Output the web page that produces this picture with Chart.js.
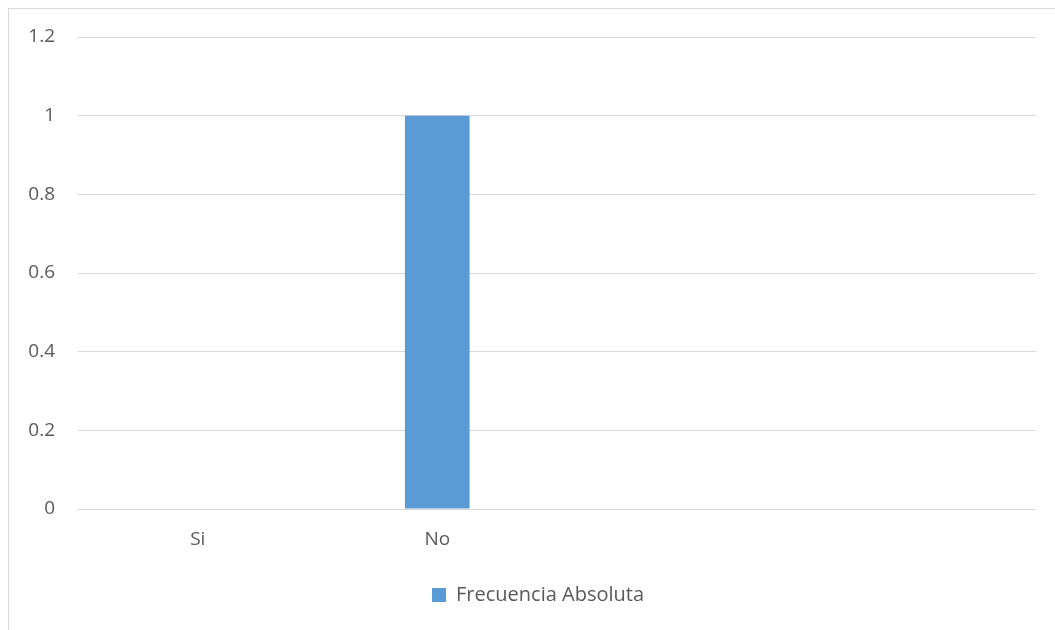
<!DOCTYPE html>
<html>
<head>
<meta charset="utf-8">
<script src="https://cdn.jsdelivr.net/npm/chart.js@4"></script>
<style>
    html, body { margin: 0; padding: 0; background: #ffffff; overflow: hidden; }
    #wrap { position: relative; width: 1055px; height: 630px; }
    #frame {
        position: absolute; left: 8px; top: 8px; width: 1100px; height: 700px;
        border: 1px solid #d9d9d9; pointer-events: none;
    }
</style>
</head>
<body>
<div id="wrap">
    <canvas id="grafico" width="1055" height="630"></canvas>
    <div id="frame"></div>
</div>
<script>
// Categorías del eje X (las dos últimas quedan vacías)
const categorias = ['Si', 'No', '', ''];
// Frecuencia absoluta por categoría
const frecuencia = [0, 1, null, null];
// Escala del eje Y
const ejeMin = 0;
const ejeMax = 1.2;
const ejePaso = 0.2;

const fuente = "'Open Sans', Lato, sans-serif";
const colorTexto = '#595959';
const colorRejilla = '#d9d9d9';

const ctx = document.getElementById('grafico');

new Chart(ctx, {
    type: 'bar',
    data: {
        labels: categorias,
        datasets: [{
            label: 'Frecuencia Absoluta',
            data: frecuencia,
            backgroundColor: '#5b9bd5',
            borderWidth: 0,
            barPercentage: 0.27,
            categoryPercentage: 1
        }]
    },
    options: {
        responsive: false,
        animation: false,
        layout: { padding: { top: 37, right: 19, bottom: 15, left: 0 } },
        scales: {
            x: {
                grid: { display: false, drawTicks: false },
                border: { display: false },
                ticks: {
                    color: colorTexto,
                    font: { family: fuente, size: 19 },
                    padding: 19,
                    maxRotation: 0
                },
                afterFit: (scale) => { scale.height = 66; }
            },
            y: {
                min: ejeMin,
                max: ejeMax,
                grid: { color: colorRejilla, lineWidth: 1, drawTicks: false },
                border: { display: false },
                ticks: {
                    stepSize: ejePaso,
                    color: colorTexto,
                    font: { family: fuente, size: 19 },
                    padding: 23,
                    callback: (v) => String(Number(v.toFixed(1)))
                },
                afterFit: (scale) => { scale.width = 78; }
            }
        },
        plugins: {
            tooltip: { enabled: false },
            legend: {
                position: 'bottom',
                labels: {
                    color: colorTexto,
                    font: { family: fuente, size: 20 },
                    boxWidth: 14,
                    boxHeight: 14,
                    padding: 10
                }
            }
        }
    },
    plugins: [{
        // la leyenda va centrada sobre todo el marco, no sólo el área útil
        id: 'moverLeyenda',
        afterLayout: (chart) => {
            const leyenda = chart.legend;
            if (!leyenda) return;
            leyenda.left += 20;
            leyenda.right += 20;
        }
    }]
});
</script>
</body>
</html>
